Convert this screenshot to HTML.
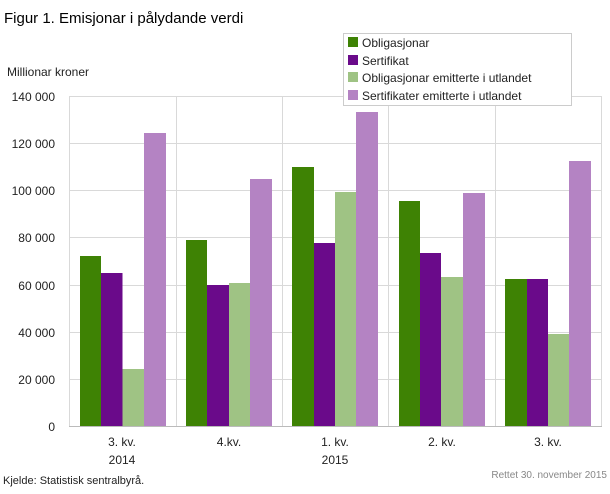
<!DOCTYPE html>
<html><head><meta charset="utf-8"><style>
body{margin:0;background:#fff;}
svg text{font-family:"Liberation Sans",sans-serif;}
</style></head><body>
<svg width="610" height="489" xmlns="http://www.w3.org/2000/svg">
<rect width="610" height="489" fill="#fff"/>
<text x="4" y="23" font-size="15" fill="#000">Figur 1. Emisjonar i pålydande verdi</text>
<text x="7" y="76" font-size="12" fill="#222">Millionar  kroner</text>
<g stroke="#d9d9d9" stroke-width="1">
<line x1="69" y1="96.5" x2="602" y2="96.5"/>
<line x1="69" y1="143.5" x2="602" y2="143.5"/>
<line x1="69" y1="190.5" x2="602" y2="190.5"/>
<line x1="69" y1="237.5" x2="602" y2="237.5"/>
<line x1="69" y1="285.5" x2="602" y2="285.5"/>
<line x1="69" y1="332.5" x2="602" y2="332.5"/>
<line x1="69" y1="379.5" x2="602" y2="379.5"/>
<line x1="69.5" y1="96" x2="69.5" y2="426"/>
<line x1="176.5" y1="96" x2="176.5" y2="426"/>
<line x1="282.5" y1="96" x2="282.5" y2="426"/>
<line x1="388.5" y1="96" x2="388.5" y2="426"/>
<line x1="495.5" y1="96" x2="495.5" y2="426"/>
<line x1="601.5" y1="96" x2="601.5" y2="426"/>
</g>
<g font-size="12" fill="#222" text-anchor="end">
<text x="55" y="101">140 000</text><text x="55" y="148">120 000</text>
<text x="55" y="195">100 000</text><text x="55" y="242">80 000</text>
<text x="55" y="290">60 000</text><text x="55" y="337">40 000</text>
<text x="55" y="384">20 000</text><text x="55" y="431">0</text>
</g>
<g>
<rect x="80" y="256" width="21" height="170" fill="#3e8204"/>
<rect x="101" y="273" width="21.5" height="153" fill="#6a0a8a"/>
<rect x="122.5" y="369" width="21.5" height="57" fill="#9fc384"/>
<rect x="144" y="133" width="22" height="293" fill="#b483c3"/>

<rect x="186" y="240" width="21" height="186" fill="#3e8204"/>
<rect x="207" y="285" width="22" height="141" fill="#6a0a8a"/>
<rect x="229" y="283" width="21" height="143" fill="#9fc384"/>
<rect x="250" y="179" width="22" height="247" fill="#b483c3"/>

<rect x="292" y="167" width="22" height="259" fill="#3e8204"/>
<rect x="314" y="243" width="21" height="183" fill="#6a0a8a"/>
<rect x="335" y="192" width="21" height="234" fill="#9fc384"/>
<rect x="356" y="112" width="22" height="314" fill="#b483c3"/>

<rect x="399" y="201" width="21" height="225" fill="#3e8204"/>
<rect x="420" y="253" width="21" height="173" fill="#6a0a8a"/>
<rect x="441" y="277" width="22" height="149" fill="#9fc384"/>
<rect x="463" y="193" width="22" height="233" fill="#b483c3"/>

<rect x="505" y="279" width="22" height="147" fill="#3e8204"/>
<rect x="527" y="279" width="21" height="147" fill="#6a0a8a"/>
<rect x="548" y="334" width="21" height="92" fill="#9fc384"/>
<rect x="569" y="161" width="22" height="265" fill="#b483c3"/>
</g>
<line x1="69" y1="426.5" x2="602" y2="426.5" stroke="#bbb"/>
<g font-size="12" fill="#222" text-anchor="middle">
<text x="122" y="446">3. kv.</text><text x="122" y="464">2014</text>
<text x="229" y="446">4.kv.</text>
<text x="335" y="446">1. kv.</text><text x="335" y="464">2015</text>
<text x="442" y="446">2. kv.</text>
<text x="548" y="446">3. kv.</text>
</g>
<text x="3" y="484" font-size="11" fill="#222">Kjelde: Statistisk sentralbyrå.</text>
<text x="607" y="478" font-size="10" fill="#888" text-anchor="end">Rettet 30. november 2015</text>
<rect x="343.5" y="33.5" width="228" height="72" fill="#fff" stroke="#ccc"/>
<g font-size="12" fill="#222">
<rect x="348" y="37" width="10" height="10" fill="#3e8204"/><text x="362" y="47">Obligasjonar</text>
<rect x="348" y="55" width="10" height="10" fill="#6a0a8a"/><text x="362" y="65">Sertifikat</text>
<rect x="348" y="72" width="10" height="10" fill="#9fc384"/><text x="362" y="82">Obligasjonar emitterte i utlandet</text>
<rect x="348" y="90" width="10" height="10" fill="#b483c3"/><text x="362" y="100">Sertifikater emitterte i utlandet</text>
</g>
</svg>
</body></html>
